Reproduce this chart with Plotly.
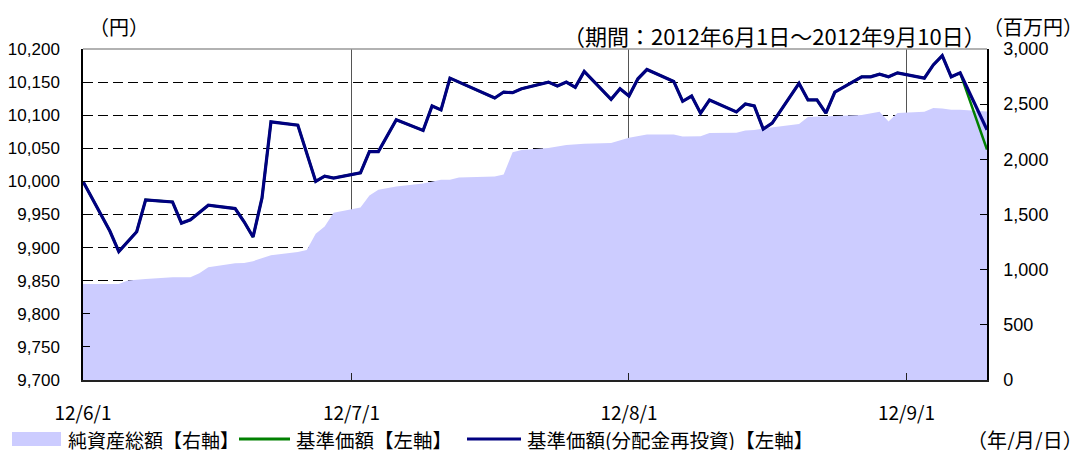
import plotly.graph_objects as go

# ---------------- data ----------------
line_dates = [
    "2012-06-01", "2012-06-04", "2012-06-05", "2012-06-07", "2012-06-08",
    "2012-06-11", "2012-06-12", "2012-06-13", "2012-06-15", "2012-06-18",
    "2012-06-19", "2012-06-20", "2012-06-21", "2012-06-22", "2012-06-25",
    "2012-06-27", "2012-06-28", "2012-06-29", "2012-07-02", "2012-07-03",
    "2012-07-04", "2012-07-06", "2012-07-09", "2012-07-10", "2012-07-11",
    "2012-07-12", "2012-07-17", "2012-07-18", "2012-07-19", "2012-07-20",
    "2012-07-23", "2012-07-24", "2012-07-25", "2012-07-26", "2012-07-27",
    "2012-07-30", "2012-07-31", "2012-08-01", "2012-08-02", "2012-08-03",
    "2012-08-06", "2012-08-07", "2012-08-08", "2012-08-09", "2012-08-10",
    "2012-08-13", "2012-08-14", "2012-08-15", "2012-08-16", "2012-08-17",
    "2012-08-20", "2012-08-21", "2012-08-22", "2012-08-23", "2012-08-24",
    "2012-08-27", "2012-08-28", "2012-08-29", "2012-08-30", "2012-08-31",
    "2012-09-03", "2012-09-04", "2012-09-05", "2012-09-06", "2012-09-07",
    "2012-09-10",
]

# 基準価額(分配金再投資)
nav_reinvested = [
    10000, 9925, 9894, 9924, 9972,
    9969, 9937, 9942, 9964, 9959,
    9939, 9916, 9975, 10090, 10085,
    10000, 10008, 10005, 10013, 10045,
    10045, 10093, 10077, 10114, 10108,
    10156, 10126, 10135, 10134, 10140,
    10150, 10144, 10150, 10142, 10166,
    10124, 10140, 10129, 10155, 10169,
    10151, 10121, 10129, 10103, 10123,
    10105, 10117, 10114, 10079, 10088,
    10148, 10123, 10123, 10103, 10135,
    10158, 10158, 10162, 10158, 10164,
    10156, 10176, 10190, 10158, 10164,
    10078,
]

# 基準価額
nav = [
    10000, 9925, 9894, 9924, 9972,
    9969, 9937, 9942, 9964, 9959,
    9939, 9916, 9975, 10090, 10085,
    10000, 10008, 10005, 10013, 10045,
    10045, 10093, 10077, 10114, 10108,
    10156, 10126, 10135, 10134, 10140,
    10150, 10144, 10150, 10142, 10166,
    10124, 10140, 10129, 10155, 10169,
    10151, 10121, 10129, 10103, 10123,
    10105, 10117, 10114, 10079, 10088,
    10148, 10123, 10123, 10103, 10135,
    10158, 10158, 10162, 10158, 10164,
    10156, 10176, 10190, 10158, 10164,
    10048,
]

# 純資産総額 (百万円)
asset_dates = [
    "2012-06-01", "2012-06-05", "2012-06-06", "2012-06-08", "2012-06-11",
    "2012-06-13", "2012-06-14", "2012-06-15", "2012-06-18", "2012-06-19",
    "2012-06-20", "2012-06-22", "2012-06-25", "2012-06-26", "2012-06-27",
    "2012-06-28", "2012-06-29", "2012-07-02", "2012-07-03", "2012-07-04",
    "2012-07-06", "2012-07-09", "2012-07-11", "2012-07-12", "2012-07-13",
    "2012-07-17", "2012-07-18", "2012-07-19", "2012-07-20", "2012-07-23",
    "2012-07-25", "2012-07-27", "2012-07-30", "2012-07-31", "2012-08-01",
    "2012-08-03", "2012-08-06", "2012-08-07", "2012-08-09", "2012-08-10",
    "2012-08-13", "2012-08-14", "2012-08-15", "2012-08-16", "2012-08-20",
    "2012-08-21", "2012-08-24", "2012-08-27", "2012-08-29", "2012-08-30",
    "2012-08-31", "2012-09-03", "2012-09-04", "2012-09-05", "2012-09-06",
    "2012-09-07", "2012-09-10",
]
total_assets = [
    871, 871, 901, 916, 931,
    931, 968, 1022, 1058, 1061,
    1077, 1131, 1161, 1179, 1325,
    1391, 1515, 1563, 1672, 1724,
    1754, 1781, 1814, 1814, 1835,
    1844, 1862, 2065, 2085, 2102,
    2129, 2141, 2147, 2168, 2195,
    2225, 2225, 2207, 2210, 2238,
    2241, 2262, 2265, 2280, 2320,
    2383, 2395, 2401, 2431, 2343,
    2419, 2431, 2465, 2461, 2449,
    2449, 2434,
]

x_tickvals = ["2012-06-01", "2012-07-01", "2012-08-01", "2012-09-01"]
x_ticktext = ["12/6/1", "12/7/1", "12/8/1", "12/9/1"]

legend_labels = ["純資産総額【右軸】", "基準価額【左軸】", "基準価額(分配金再投資)【左軸】"]
left_unit = "（円）"
right_unit = "（百万円）"
period_text = "（期間：2012年6月1日～2012年9月10日）"
date_unit = "（年/月/日）"

# ---------------- styles ----------------
AREA_COLOR = "#CCCCFF"
GREEN = "#008000"
NAVY = "#000080"
JP_FONT = "Noto Sans CJK JP"
NUM_FONT = "Liberation Sans, Arial, sans-serif"

# page has an 8px body margin: figure is drawn from page (8, 8)
OFF = 8
W, H = 1080, 444
PL, PR, PT, PB = 83, 987, 49, 380          # plot area in page pixels
ML = PL - OFF
MR = W - (PR - OFF)
MT = PT - OFF
MB = H - (PB - OFF)
PW = PR - PL
PH = PB - PT


def px(x):
    return (x - PL) / PW


def py(y):
    return (PB - y) / PH


fig = go.Figure()

fig.add_trace(go.Scatter(
    x=asset_dates, y=total_assets, name=legend_labels[0],
    mode="lines", fill="tozeroy", fillcolor=AREA_COLOR,
    line=dict(width=0, color=AREA_COLOR), yaxis="y", showlegend=False,
))
fig.add_trace(go.Scatter(
    x=line_dates, y=nav, name=legend_labels[1],
    mode="lines", line=dict(width=2.5, color=GREEN), yaxis="y2",
    showlegend=False,
))
fig.add_trace(go.Scatter(
    x=line_dates, y=nav_reinvested, name=legend_labels[2],
    mode="lines", line=dict(width=3.2, color=NAVY), yaxis="y2",
    showlegend=False,
))

fig.update_layout(
    width=W, height=H,
    margin=dict(l=ML, r=MR, t=MT, b=MB, autoexpand=False),
    paper_bgcolor="white", plot_bgcolor="white",
    showlegend=False,
    xaxis=dict(
        type="date",
        range=["2012-06-01", "2012-09-10"],
        tickvals=x_tickvals, ticktext=x_ticktext,
        showgrid=True, gridcolor="#555555", gridwidth=1,
        showline=True, linecolor="#222222", linewidth=1.5,
        ticks="inside", ticklen=7, tickcolor="#222222",
        tickfont=dict(family=JP_FONT, size=19, color="#000000"),
        ticklabelstandoff=15,
        zeroline=False, automargin=False,
    ),
    yaxis=dict(
        side="right",
        range=[0, 3000], dtick=500, tickformat=",d",
        showgrid=False, zeroline=False,
        showline=True, linecolor="#000000", linewidth=1.5,
        ticks="inside", ticklen=7, tickcolor="#000000",
        tickfont=dict(family=NUM_FONT, size=18, color="#000000"),
        ticklabelstandoff=11, automargin=False,
    ),
    yaxis2=dict(
        overlaying="y", side="left",
        range=[9700, 10200], dtick=50, tickformat=",d",
        showgrid=True, gridcolor="#000000", gridwidth=1, griddash="10px,5px",
        zeroline=False,
        showline=True, linecolor="#000000", linewidth=1.5,
        ticks="inside", ticklen=7, tickcolor="#000000",
        tickfont=dict(family=NUM_FONT, size=17, color="#000000"),
        ticklabelstandoff=18, automargin=False,
    ),
)

shapes = [
    # top border of the plot area
    dict(type="line", xref="paper", yref="paper", x0=0, x1=1, y0=1, y1=1,
         line=dict(color="#999999", width=1.5), layer="above"),
    # legend swatches
    dict(type="rect", xref="paper", yref="paper",
         x0=px(12), x1=px(61), y0=py(446), y1=py(432),
         fillcolor=AREA_COLOR, line=dict(width=0)),
    dict(type="line", xref="paper", yref="paper",
         x0=px(239), x1=px(290), y0=py(439), y1=py(439),
         line=dict(color=GREEN, width=3)),
    dict(type="line", xref="paper", yref="paper",
         x0=px(467), x1=px(521), y0=py(439), y1=py(439),
         line=dict(color=NAVY, width=3)),
]
fig.update_layout(shapes=shapes)


def jp(size):
    return dict(family=JP_FONT, size=size, color="#000000")


LEG_Y = 439
annotations = [
    dict(text=legend_labels[0], x=px(66), y=py(LEG_Y), xanchor="left", yanchor="middle", font=jp(19), height=22),
    dict(text=legend_labels[1], x=px(294), y=py(LEG_Y), xanchor="left", yanchor="middle", font=jp(19.5), height=22),
    dict(text=legend_labels[2], x=px(525), y=py(LEG_Y), xanchor="left", yanchor="middle", font=jp(19.5), height=22),
    dict(text=date_unit, x=px(1085), y=py(LEG_Y), xanchor="right", yanchor="middle", font=jp(20), height=22),
    dict(text=left_unit, x=px(119), y=py(26), xanchor="center", yanchor="middle", font=jp(20)),
    dict(text=right_unit, x=px(1085), y=py(26), xanchor="right", yanchor="middle", font=jp(20)),
    dict(text=period_text, x=px(988), y=py(35), xanchor="right", yanchor="middle", font=jp(22)),
]
for a in annotations:
    a.update(xref="paper", yref="paper", showarrow=False)
fig.update_layout(annotations=annotations)

fig.write_html("out.html")
